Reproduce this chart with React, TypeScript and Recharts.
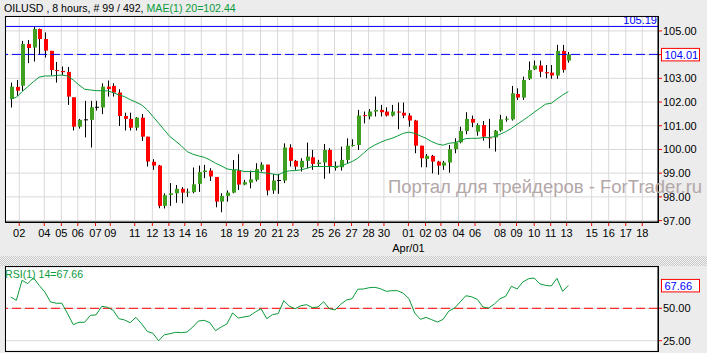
import { ComposedChart, LineChart, Line, Bar, XAxis, YAxis, CartesianGrid, ReferenceLine } from 'recharts';

// OILUSD, 8 hour bars (99 shown)
const openPx = [
  102.13, 102.64, 102.69, 104.45, 104.3, 105.08, 104.66, 104.16, 103.35, 103.31,
  103.27, 102.2, 100.96, 101.25, 101.25, 101.78, 101.77, 102.65, 102.68, 102.4,
  101.41, 101.29, 100.92, 101.34, 100.54, 99.48, 99.32, 97.62, 98.08, 98.15,
  98.34, 98.2, 98.2, 98.55, 99.05, 99.11, 98.84, 97.8, 98.04, 98.18,
  99.11, 98.52, 98.6, 98.72, 99.14, 99.36, 98.27, 98.69, 98.69, 100.08,
  99.52, 99.24, 99.52, 99.67, 99.39, 99.45, 99.98, 99.22, 99.25, 99.56,
  100.16, 100.19, 101.45, 101.39, 101.6, 101.67, 101.6, 101.43, 101.6, 101.55,
  101.43, 101.22, 100.16, 99.6, 99.73, 99.49, 99.32, 99.45, 100.01, 100.3,
  100.78, 101.29, 100.75, 101.03, 100.51, 100.51, 100.8, 101.27, 101.27, 102.34,
  102.19, 102.98, 103.38, 103.54, 103.26, 103.24, 103.12, 104.16, 103.75,
];
const highPx = [
  102.82, 102.93, 104.58, 104.62, 105.19, 105.1, 104.94, 104.16, 103.69, 103.5,
  103.48, 102.2, 101.29, 102.05, 102.05, 102.05, 102.79, 102.91, 102.79, 102.54,
  101.55, 101.55, 101.37, 101.5, 100.54, 99.59, 99.35, 98.15, 98.58, 98.5,
  98.41, 98.35, 99.24, 99.32, 99.35, 99.21, 98.84, 98.15, 98.27, 99.55,
  99.8, 98.72, 99.11, 99.42, 99.46, 99.36, 98.96, 98.97, 100.26, 100.22,
  99.56, 99.63, 100.29, 99.98, 99.56, 100.23, 100.05, 99.49, 100.12, 100.47,
  100.43, 101.67, 101.6, 101.7, 102.23, 101.88, 101.78, 101.88, 101.98, 101.98,
  101.53, 101.25, 100.16, 99.81, 99.77, 99.52, 99.52, 100.19, 100.47, 100.96,
  101.57, 101.43, 101.1, 101.2, 101.29, 100.82, 101.46, 101.4, 102.68, 102.58,
  103.07, 103.71, 103.75, 103.75, 103.56, 103.56, 104.41, 104.41, 104.11,
];
const lowPx = [
  101.77, 102.26, 102.47, 103.64, 103.71, 104.03, 103.88, 103.12, 102.82, 103.13,
  101.88, 100.8, 100.88, 100.51, 100.08, 101.64, 101.49, 102.23, 102.23, 100.99,
  100.8, 100.8, 100.8, 100.36, 99.28, 99.14, 97.52, 97.51, 97.62, 97.75,
  97.73, 98.0, 98.15, 98.21, 98.79, 98.67, 97.56, 97.35, 97.8, 98.15,
  98.29, 98.49, 98.36, 98.65, 99.07, 98.06, 98.13, 98.13, 98.58, 99.28,
  99.14, 99.07, 99.2, 99.14, 99.28, 98.76, 98.99, 99.11, 99.11, 99.42,
  100.12, 99.98, 101.1, 101.27, 101.39, 101.39, 101.39, 101.39, 100.85, 101.32,
  100.96, 99.84, 99.25, 99.25, 98.99, 98.93, 99.14, 99.02, 99.84, 100.26,
  100.64, 100.94, 100.58, 100.37, 100.05, 99.91, 100.75, 101.17, 101.22, 102.09,
  102.09, 102.93, 103.35, 103.05, 103.0, 102.98, 102.98, 103.24, 103.66,
];
const closePx = [
  102.65, 102.48, 104.45, 104.28, 105.08, 104.66, 104.17, 103.35, 103.31, 103.26,
  102.23, 100.96, 101.25, 101.25, 101.78, 101.78, 102.65, 102.55, 102.4, 101.41,
  101.29, 100.92, 101.34, 100.54, 99.49, 99.32, 97.62, 98.07, 98.15, 98.34,
  98.18, 98.22, 98.53, 99.05, 99.11, 98.86, 97.8, 98.04, 98.18, 99.14,
  98.52, 98.62, 98.74, 99.17, 99.36, 98.27, 98.69, 98.69, 100.08, 99.52,
  99.28, 99.52, 99.7, 99.39, 99.45, 99.98, 99.3, 99.27, 99.56, 100.16,
  100.19, 101.43, 101.41, 101.6, 101.67, 101.57, 101.43, 101.6, 101.57, 101.43,
  101.22, 100.16, 99.63, 99.73, 99.49, 99.32, 99.45, 100.01, 100.3, 100.78,
  101.29, 101.13, 101.03, 100.54, 100.49, 100.79, 101.27, 101.3, 102.37, 102.19,
  102.93, 103.35, 103.54, 103.28, 103.21, 103.12, 104.16, 103.36, 104.01,
];
// MAE(1) 20
const maPx = [
  102.13, 102.2, 102.44, 102.65, 102.86, 103.05, 103.1, 103.1, 103.12, 103.14,
  103.1, 102.93, 102.72, 102.54, 102.51, 102.48, 102.48, 102.47, 102.4, 102.3,
  102.23, 102.1, 102.0, 101.88, 101.67, 101.39, 101.11, 100.82, 100.54, 100.35,
  100.15, 99.91, 99.8, 99.73, 99.67, 99.56, 99.42, 99.31, 99.18, 99.14,
  99.14, 99.07, 99.07, 99.07, 99.03, 99.0, 98.97, 98.92, 99.05, 99.1,
  99.11, 99.14, 99.2, 99.28, 99.28, 99.28, 99.28, 99.28, 99.3, 99.39,
  99.49, 99.63, 99.84, 100.05, 100.19, 100.3, 100.4, 100.47, 100.57, 100.68,
  100.73, 100.68, 100.57, 100.47, 100.33, 100.23, 100.18, 100.26, 100.29, 100.37,
  100.46, 100.47, 100.47, 100.5, 100.5, 100.54, 100.64, 100.75, 100.89, 101.06,
  101.22, 101.39, 101.57, 101.74, 101.91, 101.95, 102.13, 102.3, 102.44,
];
// RSI(1) 14
const rsiVals = [
  58.7, 56.2, 71.6, 69.0, 73.6, 67.7, 62.6, 54.9, 53.9, 53.9,
  45.8, 37.4, 39.2, 39.2, 44.6, 44.9, 51.5, 50.8, 48.5, 42.0,
  41.0, 38.9, 43.0, 38.1, 32.2, 30.7, 25.0, 29.6, 30.4, 31.5,
  31.2, 31.7, 35.6, 40.2, 40.7, 38.9, 32.7, 35.6, 37.9, 46.4,
  42.5, 43.3, 44.1, 47.2, 49.7, 42.0, 45.1, 45.9, 55.9, 51.5,
  49.7, 52.0, 52.8, 50.5, 51.0, 55.1, 49.7, 48.7, 53.1, 56.4,
  57.4, 64.7, 64.9, 65.9, 66.2, 65.1, 63.1, 63.6, 63.6, 61.6,
  57.4, 46.4, 41.5, 43.0, 41.2, 39.4, 41.5, 47.9, 50.2, 54.9,
  59.7, 58.9, 56.9, 51.0, 50.2, 53.3, 57.4, 59.3, 67.0, 64.9,
  70.3, 72.8, 73.4, 68.8, 67.7, 67.2, 73.1, 63.1, 67.66,
];

// day ticks, in bar units
const tickPos = [
  1.5, 5.9, 8.9, 11.8, 14.9, 17.5, 21.8, 24.9, 27.8, 30.6, 33.5, 37.9, 40.8, 43.9, 46.9, 49.6, 54.0, 56.9,
  59.9, 62.9, 65.6, 69.9, 72.9, 75.6, 78.7, 81.6, 86.0, 88.9, 92.0, 94.9, 97.7, 102.1, 105.1, 108.1, 111.0,
];
const tickLabels = [
  '02', '04', '05', '06', '07', '09', '11', '12', '13', '14', '16', '18', '19', '20', '21', '23', '25', '26',
  '27', '28', '30', '01', '02', '03', '04', '06', '08', '09', '10', '11', '13', '15', '16', '17', '18',
];
const monthAt = 69.9;
const monthLabel = 'Apr/01';

const priceTicks = [97, 98, 99, 100, 101, 102, 103, 104, 105];
const rsiTicks = [25, 50];
const maxHigh = 105.19;
const lastClose = 104.01;
const maLast = 102.44;
const rsiLast = 67.66;

const UP = '#3f9f1f';
const DOWN = '#ff0000';
const LINE = '#0b9a3b';
const FONT = '"Liberation Sans", Arial, sans-serif';
const X_DOMAIN = [-1, 113.76];

const data = openPx.map((o, i) => ({
  i,
  open: o,
  high: highPx[i],
  low: lowPx[i],
  close: closePx[i],
  ma: maPx[i],
  rsi: rsiVals[i],
}));

function Candle(props: any) {
  const { x, y, width, height, payload } = props;
  const { open, close, high, low } = payload;
  const cx = Math.round(x + width / 2);
  const py = (v: number) => y + ((high - v) / (high - low)) * height;
  const top = py(Math.max(open, close));
  const bot = py(Math.min(open, close));
  const flat = Math.abs(close - open) < 0.015;
  const color = close > open ? UP : DOWN;
  return (
    <g>
      <line x1={cx + 0.5} x2={cx + 0.5} y1={y} y2={y + height} stroke="#000" strokeWidth={1} />
      {flat ? (
        <line x1={cx - 1} x2={cx + 3} y1={top} y2={top} stroke="#000" strokeWidth={1} />
      ) : (
        <rect x={cx - 1} y={top} width={4} height={Math.max(1, bot - top)} fill={color} />
      )}
    </g>
  );
}

function DayTick(props: any) {
  const { x, y, payload } = props;
  const k = tickPos.indexOf(payload.value);
  return (
    <g>
      <text x={x} y={y + 9} textAnchor="middle" fontSize={11} fill="#000" fontFamily={FONT}>
        {tickLabels[k]}
      </text>
      {payload.value === monthAt && (
        <text x={x} y={y + 24} textAnchor="middle" fontSize={11} fill="#000" fontFamily={FONT}>
          {monthLabel}
        </text>
      )}
    </g>
  );
}

// the boxed value label takes the place of a tick label close to it
function PriceTick(props: any) {
  const { x, y, payload, boxed } = props;
  if (boxed !== undefined && Math.abs(payload.value - boxed) < 0.3) return <g />;
  return (
    <text x={x} y={y + 4} fontSize={11} fill="#000" fontFamily={FONT}>
      {payload.value.toFixed(2)}
    </text>
  );
}

function ValueBox(props: any) {
  const { viewBox, text } = props;
  const bx = viewBox.x + viewBox.width + 3.5;
  return (
    <g>
      <rect x={bx} y={viewBox.y - 6} width={38} height={12.5} fill="#fff" stroke="#ff0000" />
      <text x={bx + 3} y={viewBox.y + 4.5} fontSize={11} fill="#0000ff" fontFamily={FONT}>
        {text}
      </text>
    </g>
  );
}

function TopLabel(props: any) {
  const { viewBox, text } = props;
  return (
    <text x={viewBox.x + viewBox.width - 1} y={viewBox.y - 2} textAnchor="end" fontSize={11} fill="#0000ff" fontFamily={FONT}>
      {text}
    </text>
  );
}

const frame = (left: number, top: number, width: number, height: number) => ({
  position: 'absolute' as const,
  left,
  top,
  width,
  height,
  border: '1px solid #000',
  boxSizing: 'border-box' as const,
  pointerEvents: 'none' as const,
});

export default function App() {
  return (
    <div style={{ position: 'fixed', left: 0, top: 0, width: 707, height: 353, background: '#ececec', fontFamily: FONT, overflow: 'hidden' }}>
      <div style={{ position: 'absolute', left: 0, top: 0 }}>
        <ComposedChart width={707} height={256} data={data} margin={{ top: 16, right: 0, bottom: 0, left: 5 }}>
          <CartesianGrid stroke="#d9d9d9" fill="#fff" />
          <XAxis
            dataKey="i"
            type="number"
            domain={X_DOMAIN}
            allowDataOverflow
            ticks={tickPos}
            interval={0}
            height={34}
            tickSize={4}
            axisLine={{ stroke: '#000' }}
            tickLine={{ stroke: '#ff0000' }}
            tick={<DayTick />}
          />
          <YAxis
            orientation="right"
            domain={[96.94, 105.63]}
            allowDataOverflow
            ticks={priceTicks}
            interval={0}
            width={49}
            tickSize={4}
            tickMargin={1}
            axisLine={{ stroke: '#000' }}
            tickLine={{ stroke: '#ff0000' }}
            tick={<PriceTick boxed={lastClose} />}
          />
          <ReferenceLine y={maxHigh} stroke="#0000ff" label={<TopLabel text={maxHigh.toFixed(2)} />} />
          <ReferenceLine y={lastClose} stroke="#0000ff" strokeDasharray="9 4" label={<ValueBox text={lastClose.toFixed(2)} />} />
          <Bar dataKey={(d: any) => [d.low, d.high]} barSize={4} shape={<Candle />} isAnimationActive={false} />
          <Line dataKey="ma" stroke={LINE} strokeWidth={1} dot={false} type="linear" isAnimationActive={false} />
        </ComposedChart>
      </div>
      <div style={frame(5, 16, 654, 207)} />

      <div
        style={{
          position: 'absolute',
          left: 0,
          top: 256,
          width: 707,
          height: 10,
          background: 'repeating-conic-gradient(#c9c9c9 0 25%, #f2f2f2 0 50%) 0 0 / 2px 2px',
        }}
      />

      <div style={{ position: 'absolute', left: 0, top: 262 }}>
        <LineChart width={707} height={91} data={data} margin={{ top: 5, right: 0, bottom: 0, left: 5 }}>
          <CartesianGrid stroke="#d9d9d9" fill="#fff" />
          <XAxis
            dataKey="i"
            type="number"
            domain={X_DOMAIN}
            allowDataOverflow
            ticks={tickPos}
            interval={0}
            height={2}
            tick={false}
            tickLine={false}
            axisLine={false}
          />
          <YAxis
            orientation="right"
            domain={[17.05, 81.87]}
            allowDataOverflow
            ticks={rsiTicks}
            interval={0}
            width={49}
            tickSize={4}
            tickMargin={1}
            axisLine={{ stroke: '#000' }}
            tickLine={{ stroke: '#ff0000' }}
            tick={<PriceTick />}
          />
          <ReferenceLine y={50} stroke="#ff0000" strokeDasharray="9 4" />
          <ReferenceLine y={rsiLast} stroke="none" label={<ValueBox text={rsiLast.toFixed(2)} />} />
          <Line dataKey="rsi" stroke={LINE} strokeWidth={1} dot={false} type="linear" isAnimationActive={false} />
        </LineChart>
      </div>
      <div style={frame(5, 266, 654, 86)} />

      <svg width={707} height={353} style={{ position: 'absolute', left: 0, top: 0, pointerEvents: 'none' }}>
        <text x={4} y={12} fontSize={10.6} fontFamily={FONT} fill="#000">
          OILUSD , 8 hours, # 99 / 492, <tspan fill={LINE}>{`MAE(1) 20=${maLast.toFixed(2)}`}</tspan>
        </text>
        <text x={388} y={193} fontSize={18.5} fontFamily={FONT} fill="#b3a7a7">
          Портал для трейдеров - ForTrader.ru
        </text>
        <text x={5} y={278} fontSize={10.6} fontFamily={FONT} fill={LINE}>
          {`RSI(1) 14=${rsiLast.toFixed(2)}`}
        </text>
      </svg>
    </div>
  );
}
